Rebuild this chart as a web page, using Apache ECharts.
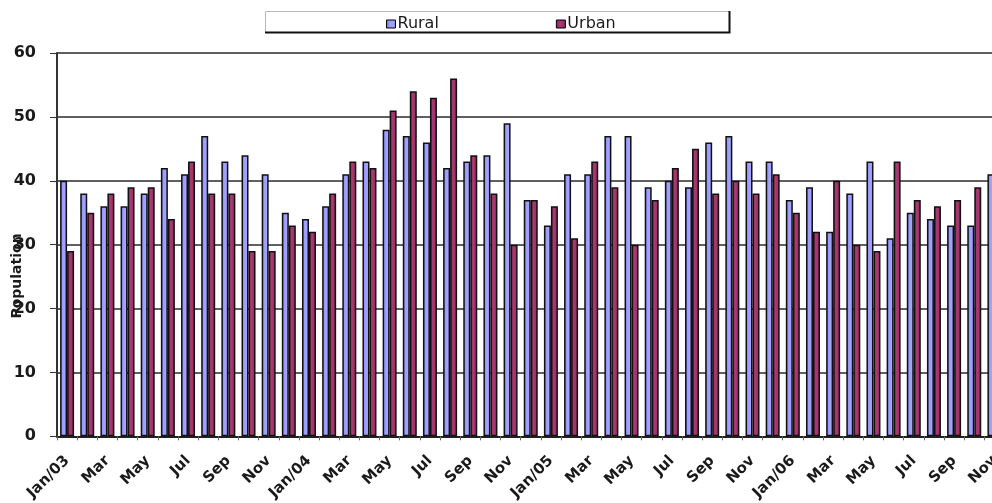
<!DOCTYPE html>
<html>
<head>
<meta charset="utf-8">
<script src="https://cdn.jsdelivr.net/npm/echarts@6/dist/echarts.min.js"></script>
<style>
  html, body { margin: 0; padding: 0; background: #ffffff; overflow: hidden; }
  #chart { width: 1012px; height: 503px; }
</style>
</head>
<body>
<div id="chart"></div>
<script>
// Monthly categories, Jan 2003 to Nov 2006
const months = [
  'Jan/03','Feb','Mar','Apr','May','Jun','Jul','Aug','Sep','Oct','Nov','Dec',
  'Jan/04','Feb','Mar','Apr','May','Jun','Jul','Aug','Sep','Oct','Nov','Dec',
  'Jan/05','Feb','Mar','Apr','May','Jun','Jul','Aug','Sep','Oct','Nov','Dec',
  'Jan/06','Feb','Mar','Apr','May','Jun','Jul','Aug','Sep','Oct','Nov'
];

const rural = [
  40, 38, 36, 36, 38, 42, 41, 47, 43, 44, 41, 35,
  34, 36, 41, 43, 48, 47, 46, 42, 43, 44, 49, 37,
  33, 41, 41, 47, 47, 39, 40, 39, 46, 47, 43, 43,
  37, 39, 32, 38, 43, 31, 35, 34, 33, 33, 41
];

const urban = [
  29, 35, 38, 39, 39, 34, 43, 38, 38, 29, 29, 33,
  32, 38, 43, 42, 51, 54, 53, 56, 44, 38, 30, 37,
  36, 31, 43, 39, 30, 37, 42, 45, 38, 40, 38, 41,
  35, 32, 40, 30, 29, 43, 37, 36, 37, 39, 40
];

const yTicks = { min: 0, max: 60, step: 10 };
const seriesNames = ['Rural', 'Urban'];
const axisTitle = 'Population';

const FONT = '"DejaVu Sans", "Liberation Sans", Arial, sans-serif';
const INK = '#1a1a1a';

const ruralFill = new echarts.graphic.LinearGradient(0, 0, 1, 0, [
  { offset: 0, color: '#6c6cc9' },
  { offset: 0.35, color: '#9c9cff' },
  { offset: 0.7, color: '#a4a4ff' },
  { offset: 1, color: '#8282e0' }
]);
const urbanFill = new echarts.graphic.LinearGradient(0, 0, 1, 0, [
  { offset: 0, color: '#7a2050' },
  { offset: 0.4, color: '#ac3a72' },
  { offset: 1, color: '#8c2a5c' }
]);

const chart = echarts.init(document.getElementById('chart'), null, { renderer: 'canvas' });

const option = {
  backgroundColor: '#ffffff',
  animation: false,
  textStyle: { fontFamily: FONT, color: INK },
  graphic: [
    // legend frame
    {
      type: 'rect', z: 1,
      shape: { x: 265.5, y: 11.5, width: 464, height: 21 },
      style: { fill: '#ffffff', stroke: '#b8b8b8', lineWidth: 1 }
    },
    {
      type: 'polyline', z: 2,
      shape: { points: [[265, 32.5], [729.5, 32.5], [729.5, 11]] },
      style: { stroke: '#111111', lineWidth: 2, fill: null }
    },
    // vertical axis title
    {
      type: 'text', z: 10,
      x: 17, y: 276, rotation: Math.PI / 2,
      style: {
        text: axisTitle,
        font: 'bold 14px ' + FONT,
        fill: INK,
        align: 'center',
        verticalAlign: 'middle'
      }
    }
  ],
  legend: {
    data: seriesNames,
    left: 381, top: 11,
    z: 5,
    itemWidth: 9, itemHeight: 8, itemGap: 117,
    icon: 'rect',
    textStyle: { fontFamily: FONT, fontSize: 16, color: INK, padding: [0, 0, 0, -3] },
    itemStyle: { borderColor: '#000', borderWidth: 1 }
  },
  grid: {
    left: 57, top: 53, width: 947.5, height: 386,
    containLabel: false
  },
  xAxis: {
    type: 'category',
    data: months,
    boundaryGap: true,
    axisLine: { show: true, lineStyle: { color: '#222', width: 2 } },
    axisTick: { show: true, interval: 0, length: 4, lineStyle: { color: '#666', width: 1 } },
    axisLabel: {
      interval: 1,
      rotate: 45,
      margin: 22,
      fontFamily: FONT,
      fontWeight: 'bold',
      fontSize: 15,
      color: INK
    },
    splitLine: { show: false }
  },
  yAxis: {
    type: 'value',
    min: yTicks.min, max: yTicks.max, interval: yTicks.step,
    axisLine: { show: true, lineStyle: { color: '#333', width: 2 } },
    axisTick: { show: true, inside: false, length: 7, lineStyle: { color: '#333', width: 1 } },
    axisLabel: {
      margin: 21,
      fontFamily: FONT,
      fontWeight: 'bold',
      fontSize: 16,
      color: INK
    },
    splitLine: { show: true, lineStyle: { color: '#2b2b2b', width: 1.5 } }
  },
  series: [
    {
      name: seriesNames[0],
      type: 'bar',
      data: rural,
      barWidth: 7,
      barGap: '0%',
      itemStyle: { color: ruralFill, borderColor: '#111', borderWidth: 1.5 }
    },
    {
      name: seriesNames[1],
      type: 'bar',
      data: urban,
      barWidth: 7,
      barGap: '0%',
      itemStyle: { color: urbanFill, borderColor: '#111', borderWidth: 1.5 }
    }
  ]
};

// legend swatches use the flat series colours
option.series[0].color = '#9999ff';
option.series[1].color = '#993366';

chart.setOption(option);
</script>
</body>
</html>
